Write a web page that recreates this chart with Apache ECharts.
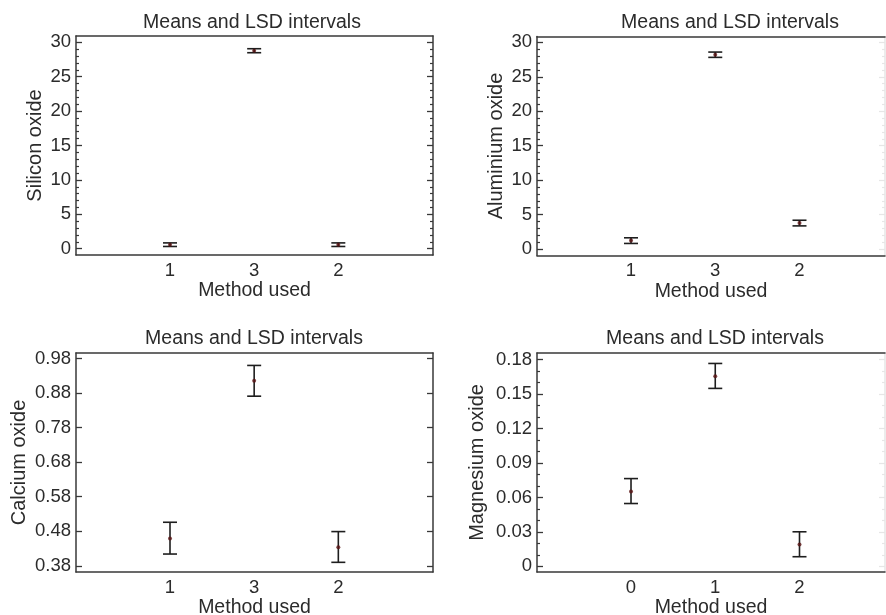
<!DOCTYPE html>
<html>
<head>
<meta charset="utf-8">
<script src="https://cdn.jsdelivr.net/npm/echarts@6/dist/echarts.min.js"></script>
<style>
  html, body { margin: 0; padding: 0; background: #fff; }
  #chart { width: 886px; height: 615px; }
</style>
</head>
<body>
<div id="chart"></div>
<script>
// Text
const titleText = 'Means and LSD intervals';
const xAxisName = 'Method used';

// Method labels in the order they are plotted
const methodOrder = ['1', '3', '2'];
const magnesiumMethods = ['0', '1', '2'];

// Silicon oxide: mean and LSD interval limits
const siliconMean = [0.58, 28.78, 0.58];
const siliconLow  = [0.32, 28.49, 0.32];
const siliconHigh = [0.84, 29.07, 0.84];

// Aluminium oxide
const aluminiumMean = [1.22, 28.21, 3.77];
const aluminiumLow  = [0.80, 27.82, 3.35];
const aluminiumHigh = [1.62, 28.59, 4.17];

// Calcium oxide
const calciumMean = [0.459, 0.916, 0.434];
const calciumLow  = [0.414, 0.871, 0.390];
const calciumHigh = [0.506, 0.960, 0.479];

// Magnesium oxide
const magnesiumMean = [0.0651, 0.1655, 0.0191];
const magnesiumLow  = [0.0547, 0.1549, 0.0084];
const magnesiumHigh = [0.0764, 0.1766, 0.0301];

// Y tick labels
const siliconTicks   = [0, 5, 10, 15, 20, 25, 30];
const aluminiumTicks = [0, 5, 10, 15, 20, 25, 30];
const calciumTicks   = [0.38, 0.48, 0.58, 0.68, 0.78, 0.88, 0.98];
const magnesiumTicks = [0, 0.03, 0.06, 0.09, 0.12, 0.15, 0.18];

const FONT = "'Liberation Sans', Arial, sans-serif";
const INK = '#2b2b2b';
const AXIS = '#383838';

// Minor tick positions: split each major interval into equal parts
function minorTicks(major, parts) {
  const out = [];
  if (parts < 2) return out;
  for (let i = 0; i < major.length - 1; i++) {
    const step = (major[i + 1] - major[i]) / parts;
    for (let k = 1; k < parts; k++) out.push(major[i] + step * k);
  }
  return out;
}

function fmt(v) { return String(+v.toFixed(3)); }

const panels = [
  { name: 'Silicon oxide', labels: methodOrder, mean: siliconMean, low: siliconLow, high: siliconHigh,
    ticks: siliconTicks, minorParts: 5, yMin: -0.92, yMax: 30.92,
    grid: { left: 76, top: 36, width: 357, height: 219 }, xMin: -0.117, xMax: 4.125,
    yNameGap: 31, titleX: 252, titleY: 13, faintRight: false },
  { name: 'Aluminium oxide', labels: methodOrder, mean: aluminiumMean, low: aluminiumLow, high: aluminiumHigh,
    ticks: aluminiumTicks, minorParts: 5, yMin: -0.95, yMax: 30.85,
    grid: { left: 537, top: 36.5, width: 348, height: 219 }, xMin: -0.116, xMax: 4.015,
    yNameGap: 31, titleX: 730, titleY: 13, faintRight: true },
  { name: 'Calcium oxide', labels: methodOrder, mean: calciumMean, low: calciumLow, high: calciumHigh,
    ticks: calciumTicks, minorParts: 0, yMin: 0.362, yMax: 0.996,
    grid: { left: 76, top: 353, width: 357, height: 219 }, xMin: -0.117, xMax: 4.125,
    yNameGap: 47, titleX: 254, titleY: 329, faintRight: false },
  { name: 'Magnesium oxide', labels: magnesiumMethods, mean: magnesiumMean, low: magnesiumLow, high: magnesiumHigh,
    ticks: magnesiumTicks, minorParts: 3, yMin: -0.0049, yMax: 0.1857,
    grid: { left: 537, top: 353, width: 348, height: 219 }, xMin: -0.116, xMax: 4.015,
    yNameGap: 50, titleX: 715, titleY: 329, faintRight: true }
];

const option = {
  backgroundColor: '#ffffff',
  animation: false,
  textStyle: { fontFamily: FONT },
  title: [], grid: [], xAxis: [], yAxis: [], series: []
};

// Error bar: vertical line from low to high with horizontal caps
function renderInterval(params, api) {
  const x = api.value(0);
  const pLo = api.coord([x, api.value(1)]);
  const pHi = api.coord([x, api.value(2)]);
  const w = 7;
  const style = { stroke: '#1e1e1e', lineWidth: 1.6, fill: null };
  return {
    type: 'group',
    children: [
      { type: 'line', shape: { x1: pLo[0], y1: pLo[1], x2: pHi[0], y2: pHi[1] }, style },
      { type: 'line', shape: { x1: pLo[0] - w, y1: pLo[1], x2: pLo[0] + w, y2: pLo[1] }, style },
      { type: 'line', shape: { x1: pHi[0] - w, y1: pHi[1], x2: pHi[0] + w, y2: pHi[1] }, style }
    ]
  };
}

panels.forEach((p, gi) => {
  option.title.push({
    text: titleText, left: p.titleX, top: p.titleY, textAlign: 'center', padding: 0,
    textStyle: { fontFamily: FONT, fontSize: 19.5, fontWeight: 'normal', color: INK }
  });
  option.grid.push(Object.assign({ outerBoundsMode: 'none', containLabel: false }, p.grid));

  const slots = p.labels.map((_, i) => i + 1);
  const minor = minorTicks(p.ticks, p.minorParts);
  const rightColor = p.faintRight ? '#e6e6e6' : AXIS;

  // bottom axis with method labels
  option.xAxis.push({
    type: 'value', gridIndex: gi, position: 'bottom', min: p.xMin, max: p.xMax,
    axisLine: { show: true, onZero: false, lineStyle: { color: AXIS, width: 1.5 } },
    axisTick: { show: false }, splitLine: { show: false },
    axisLabel: {
      customValues: slots, margin: 6, fontSize: 18.5, color: INK, fontFamily: FONT,
      formatter: v => p.labels[Math.round(v) - 1]
    },
    name: xAxisName, nameLocation: 'middle', nameGap: 25,
    nameTextStyle: { fontSize: 19.5, color: INK, fontFamily: FONT }
  });
  // top frame line
  option.xAxis.push({
    type: 'value', gridIndex: gi, position: 'top', min: p.xMin, max: p.xMax,
    axisLine: { show: true, onZero: false, lineStyle: { color: AXIS, width: 1.5 } },
    axisTick: { show: false }, axisLabel: { show: false }, splitLine: { show: false }
  });

  const yBase = { type: 'value', gridIndex: gi, min: p.yMin, max: p.yMax, splitLine: { show: false } };
  const yMain = option.yAxis.length;
  // left axis: labels and major ticks
  option.yAxis.push(Object.assign({}, yBase, {
    position: 'left', offset: 0,
    axisLine: { show: true, onZero: false, lineStyle: { color: AXIS, width: 1.5 } },
    axisTick: { show: true, inside: true, length: 6, customValues: p.ticks, lineStyle: { color: AXIS, width: 1.3 } },
    axisLabel: { customValues: p.ticks, margin: 5, fontSize: 18.5, color: INK, fontFamily: FONT, formatter: fmt },
    name: p.name, nameLocation: 'middle', nameGap: p.yNameGap,
    nameTextStyle: { fontSize: 20, color: INK, fontFamily: FONT }
  }));
  // left minor ticks
  if (minor.length) {
    option.yAxis.push(Object.assign({}, yBase, {
      position: 'left', offset: 0,
      axisLine: { show: false, onZero: false }, axisLabel: { show: false },
      axisTick: { show: true, inside: true, length: 3, customValues: minor, lineStyle: { color: AXIS, width: 1.2 } }
    }));
  }
  // right frame with major ticks
  option.yAxis.push(Object.assign({}, yBase, {
    position: 'right', offset: 0,
    axisLine: { show: true, onZero: false, lineStyle: { color: rightColor, width: 1.5 } },
    axisTick: { show: true, inside: true, length: 6, customValues: p.ticks, lineStyle: { color: rightColor, width: 1.3 } },
    axisLabel: { show: false }
  }));
  if (minor.length) {
    option.yAxis.push(Object.assign({}, yBase, {
      position: 'right', offset: 0,
      axisLine: { show: false, onZero: false }, axisLabel: { show: false },
      axisTick: { show: true, inside: true, length: 3, customValues: minor, lineStyle: { color: rightColor, width: 1.2 } }
    }));
  }

  const xIdx = gi * 2;
  option.series.push({
    type: 'custom', xAxisIndex: xIdx, yAxisIndex: yMain,
    renderItem: renderInterval,
    encode: { x: 0, y: [1, 2] },
    data: slots.map((s, i) => [s, p.low[i], p.high[i]]),
    z: 2
  });
  option.series.push({
    type: 'scatter', xAxisIndex: xIdx, yAxisIndex: yMain,
    symbol: 'circle', symbolSize: 4,
    itemStyle: { color: '#5a1414' },
    data: slots.map((s, i) => [s, p.mean[i]]),
    z: 3
  });
});

const chart = echarts.init(document.getElementById('chart'), null, { renderer: 'canvas' });
chart.setOption(option);
</script>
</body>
</html>
